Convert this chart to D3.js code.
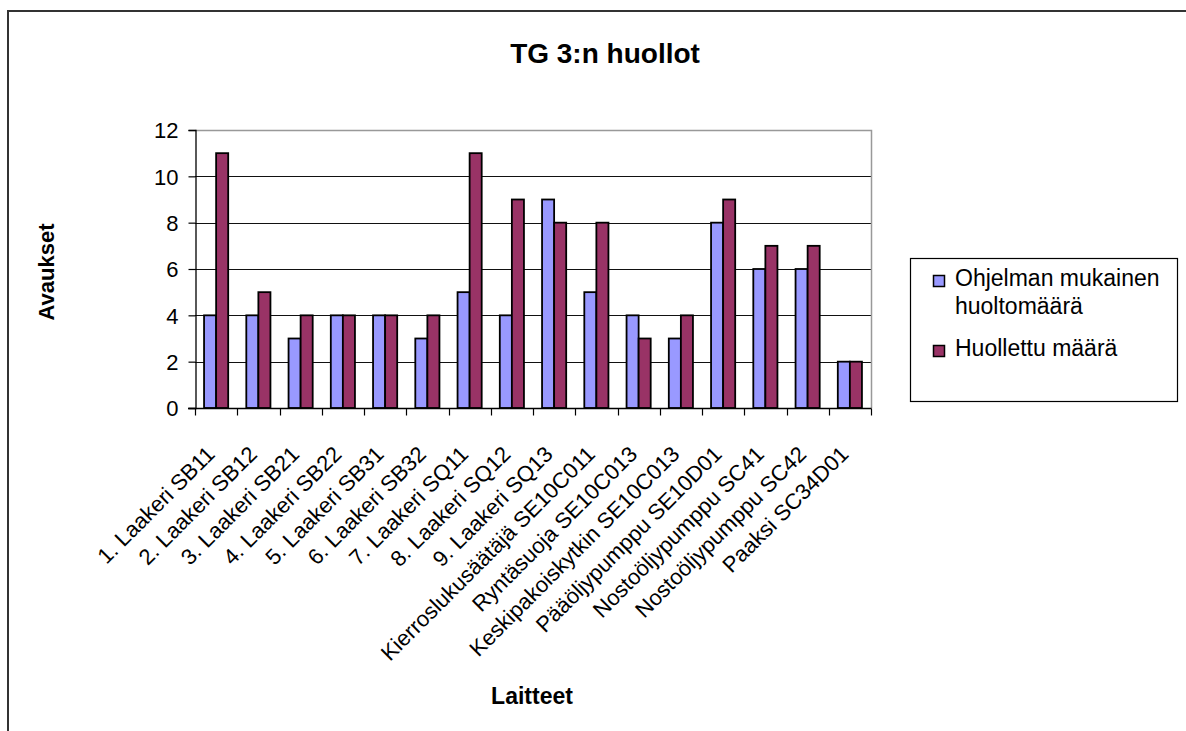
<!DOCTYPE html>
<html>
<head>
<meta charset="utf-8">
<script src="https://cdn.jsdelivr.net/npm/d3@7"></script>
<style>
  html, body { margin: 0; padding: 0; background: #fff; }
  svg { display: block; font-family: "Liberation Sans", Arial, sans-serif; }
</style>
</head>
<body>
<svg id="chart" width="1186" height="731"></svg>
<script>
// Devices (x-axis categories)
const categories = [
  "1. Laakeri SB11", "2. Laakeri SB12", "3. Laakeri SB21", "4. Laakeri SB22",
  "5. Laakeri SB31", "6. Laakeri SB32", "7. Laakeri SQ11", "8. Laakeri SQ12",
  "9. Laakeri SQ13", "Kierroslukusäätäjä SE10C011", "Ryntäsuoja SE10C013",
  "Keskipakoiskytkin SE10C013", "Pääöljypumppu SE10D01", "Nostoöljypumppu SC41",
  "Nostoöljypumppu SC42", "Paaksi SC34D01"
];
// Scheduled maintenance count
const planned = [4, 4, 3, 4, 4, 3, 5, 4, 9, 5, 4, 3, 8, 6, 6, 2];
// Maintenance actually performed
const performed = [11, 5, 4, 4, 4, 4, 11, 9, 8, 8, 3, 4, 9, 7, 7, 2];
const seriesNames = ["Ohjelman mukainen huoltomäärä", "Huollettu määrä"];
const seriesColors = ["#9999FF", "#993366"];
const yTicks = [0, 2, 4, 6, 8, 10, 12];

const svg = d3.select("#chart");
const FONT = "Liberation Sans, Arial, sans-serif";

// Outer chart frame
svg.append("rect")
  .attr("x", 8).attr("y", 11).attr("width", 1200).attr("height", 740)
  .attr("fill", "#fff").attr("stroke", "#333").attr("stroke-width", 2);

const plot = { left: 195, top: 130, right: 871, bottom: 408 };

const x = d3.scaleBand().domain(categories).range([plot.left, plot.right]);
const y = d3.scaleLinear().domain([0, 12]).range([plot.bottom, plot.top]);
const barW = x.bandwidth() / 3.5;
const sub = d3.scaleBand().domain([0, 1]).range([0.75 * barW, 2.75 * barW]);

// Gridlines
svg.append("g").selectAll("line").data(yTicks.filter(t => t > 0 && t < 12)).join("line")
  .attr("x1", plot.left).attr("x2", plot.right)
  .attr("y1", d => Math.round(y(d)) + 0.5).attr("y2", d => Math.round(y(d)) + 0.5)
  .attr("stroke", "#111").attr("stroke-width", 1.2);

// Plot area border (top and right)
svg.append("path")
  .attr("d", `M${plot.left},${plot.top + 0.5}H${plot.right + 0.5}V${plot.bottom}`)
  .attr("fill", "none").attr("stroke", "#999").attr("stroke-width", 1.5);

// Bars
const series = [planned, performed];
series.forEach((vals, si) => {
  svg.append("g").selectAll("rect").data(vals).join("rect")
    .attr("x", (d, i) => x(categories[i]) + sub(si))
    .attr("y", d => y(d))
    .attr("width", sub.bandwidth())
    .attr("height", d => y(0) - y(d))
    .attr("fill", seriesColors[si])
    .attr("stroke", "#000").attr("stroke-width", 1.8);
});

// Y axis
const yAxis = d3.axisLeft(y).tickValues(yTicks).tickSize(7).tickPadding(10);
const gy = svg.append("g").attr("transform", `translate(${plot.left + 0.5},0)`).call(yAxis);
gy.select(".domain").attr("stroke", "#000").attr("stroke-width", 1.3);
gy.selectAll(".tick line").attr("stroke", "#000").attr("stroke-width", 1.2);
gy.selectAll("text").attr("font-size", 22).attr("fill", "#000")
  .attr("font-family", FONT).attr("dy", "0.36em");

// X axis with ticks on category boundaries
const gx = svg.append("g").attr("transform", `translate(0,${plot.bottom + 0.5})`);
gx.append("line").attr("x1", plot.left - 7).attr("x2", plot.right + 0.5)
  .attr("stroke", "#000").attr("stroke-width", 1.3);
const bounds = categories.map(c => x(c)).concat([plot.right]);
gx.selectAll("line.tk").data(bounds).join("line").attr("class", "tk")
  .attr("x1", d => Math.round(d) + 0.5).attr("x2", d => Math.round(d) + 0.5)
  .attr("y1", 0).attr("y2", 7).attr("stroke", "#000").attr("stroke-width", 1.2);
gx.selectAll("text").data(categories).join("text")
  .attr("transform", d => `translate(${x(d) + x.bandwidth() / 2},${47}) rotate(-45)`)
  .attr("text-anchor", "end")
  .attr("font-size", 22).attr("fill", "#000")
  .text(d => d);

// Titles
svg.append("text").attr("x", 605).attr("y", 63).attr("text-anchor", "middle")
  .attr("font-size", 28).attr("font-weight", "bold").text("TG 3:n huollot");
svg.append("text").attr("x", 532).attr("y", 704).attr("text-anchor", "middle")
  .attr("font-size", 23).attr("font-weight", "bold").text("Laitteet");
svg.append("text").attr("transform", "translate(54,272) rotate(-90)")
  .attr("text-anchor", "middle")
  .attr("font-size", 22).attr("font-weight", "bold").text("Avaukset");

// Legend
const lg = svg.append("g");
lg.append("rect").attr("x", 910.5).attr("y", 258.5).attr("width", 267).attr("height", 143)
  .attr("fill", "#fff").attr("stroke", "#000").attr("stroke-width", 1.2);
const legendRows = [
  { lines: ["Ohjelman mukainen", "huoltomäärä"], y: 286 },
  { lines: ["Huollettu määrä"], y: 356 }
];
legendRows.forEach((row, i) => {
  lg.append("rect").attr("x", 933.5).attr("y", row.y - 10.5).attr("width", 11).attr("height", 11)
    .attr("fill", seriesColors[i]).attr("stroke", "#000").attr("stroke-width", 1.5);
  const t = lg.append("text").attr("x", 955).attr("y", row.y).attr("font-size", 23);
  row.lines.forEach((ln, j) => {
    t.append("tspan").attr("x", 955).attr("dy", j === 0 ? 0 : 28).text(ln);
  });
});
</script>
</body>
</html>
